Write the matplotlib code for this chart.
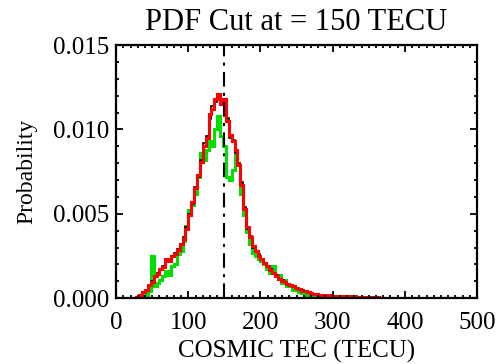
import numpy as np
import matplotlib
matplotlib.use("Agg")
import matplotlib.pyplot as plt
from matplotlib.ticker import MultipleLocator, FormatStrFormatter

plt.rcParams['font.family'] = ['Liberation Serif', 'DejaVu Serif']

# bin edges (TECU), bin width 4
bin_start = 0
bin_width = 4
n_bins = 125

# probabilities in units of 1e-3
red_vals = [
    0, 0, 0, 0, 0, 0, 0, 0.05, 0.2, 0.35,
    0.5, 0.75, 0.95, 1.3, 1.45, 1.7, 1.85, 2.3, 2.2, 2.5,
    2.6, 2.85, 3.2, 3.5, 4.1, 4.9, 5.7, 6.5, 7.3, 8.1,
    9.0, 9.5, 10.9, 11.2, 11.8, 12.1, 11.5, 11.8, 10.5, 9.7,
    9.3, 8.8, 7.9, 6.7, 5.3, 4.2, 3.6, 3.1, 2.8, 2.5,
    2.3, 2.1, 1.9, 1.65, 1.5, 1.3, 1.15, 1.0, 0.95, 0.85,
    0.8, 0.7, 0.62, 0.55, 0.45, 0.4, 0.35, 0.3, 0.27, 0.24,
    0.2, 0.18, 0.16, 0.17, 0.15, 0.14, 0.15, 0.13, 0.14, 0.12,
    0.12, 0.10, 0.11, 0.09, 0.08, 0.07, 0.06, 0.06, 0.05, 0.04,
    0.04, 0.03, 0.03, 0.02, 0.02, 0.02, 0.02, 0.01, 0.01, 0.01,
    0.01, 0, 0, 0, 0, 0, 0, 0, 0, 0,
    0, 0, 0, 0, 0, 0, 0, 0, 0, 0,
    0, 0, 0, 0, 0,
]

green_vals = [
    0, 0, 0, 0, 0, 0, 0, 0, 0, 0.05,
    0.2, 0.4, 2.5, 0.7, 0.9, 1.1, 1.3, 1.6, 1.4, 1.9,
    2.0, 2.6, 2.8, 3.4, 4.3, 5.2, 5.5, 6.2, 7.2, 8.6,
    8.2, 8.8, 9.3, 9.0, 10.0, 10.8, 9.6, 9.0, 7.2, 7.0,
    7.6, 8.6, 7.9, 6.2, 4.9, 3.9, 3.2, 2.7, 2.5, 2.3,
    2.2, 2.0, 1.7, 1.5, 1.9, 1.3, 1.4, 0.9, 1.1, 0.7,
    0.75, 0.5, 0.55, 0.35, 0.3, 0.2, 0.15, 0.1, 0.08, 0.05,
    0.03, 0.02, 0.02, 0.02, 0.01, 0, 0, 0, 0, 0,
    0, 0, 0, 0, 0, 0, 0, 0, 0, 0,
    0, 0, 0, 0, 0, 0, 0, 0, 0, 0,
    0, 0, 0, 0, 0, 0, 0, 0, 0, 0,
    0, 0, 0, 0, 0, 0, 0, 0, 0, 0,
    0, 0, 0, 0, 0,
]

black_vals = [
    0, 0, 0, 0, 0, 0, 0, 0.05, 0.2, 0.3,
    0.5, 0.7, 1.0, 1.25, 1.5, 1.65, 1.9, 2.2, 2.3, 2.45,
    2.65, 2.9, 3.15, 3.6, 4.2, 5.0, 5.6, 6.6, 7.2, 8.2,
    9.2, 9.6, 10.6, 11.4, 11.6, 11.9, 11.6, 11.6, 10.7, 9.5,
    9.4, 8.6, 8.0, 6.9, 5.4, 4.1, 3.7, 3.0, 2.8, 2.6,
    2.3, 2.0, 1.9, 1.7, 1.5, 1.35, 1.1, 1.05, 0.9, 0.85,
    0.78, 0.7, 0.6, 0.55, 0.47, 0.4, 0.34, 0.3, 0.26, 0.24,
    0.2, 0.18, 0.17, 0.16, 0.15, 0.14, 0.14, 0.13, 0.13, 0.12,
    0.11, 0.10, 0.10, 0.09, 0.08, 0.07, 0.06, 0.05, 0.05, 0.04,
    0.04, 0.03, 0.03, 0.02, 0.02, 0.02, 0.01, 0.01, 0.01, 0.01,
    0, 0, 0, 0, 0, 0, 0, 0, 0, 0,
    0, 0, 0, 0, 0, 0, 0, 0, 0, 0,
    0, 0, 0, 0, 0,
]

cut_value = 150
title = "PDF Cut at = 150 TECU"
xlabel = "COSMIC TEC (TECU)"
ylabel = "Probability"
xticks = [0, 100, 200, 300, 400, 500]
yticks = [0.000, 0.005, 0.010, 0.015]

edges = bin_start + bin_width * np.arange(n_bins + 1)
scale = 1e-3

fig = plt.figure(figsize=(4.96, 3.64), dpi=100)
ax = fig.add_axes([0.234, 0.181, 0.728, 0.695])

ax.stairs(np.array(green_vals) * scale, edges, color='#00e000', lw=2.2, baseline=None)
ax.stairs(np.array(black_vals) * scale, edges, color='black', lw=1.2, baseline=None)
ax.stairs(np.array(red_vals) * scale, edges, color='#ff0000', lw=2.2, baseline=None)

ax.axvline(cut_value, color='black', lw=1.5, linestyle=(0, (7, 3, 1.5, 3)))

ax.set_xlim(0, 500)
ax.set_ylim(0, 0.015)
ax.set_xticks(xticks)
ax.set_yticks(yticks)
ax.yaxis.set_major_formatter(FormatStrFormatter('%.3f'))
ax.xaxis.set_minor_locator(MultipleLocator(10))
ax.yaxis.set_minor_locator(MultipleLocator(0.001))
ax.tick_params(which='both', direction='in', top=True, right=True, width=1.3, labelsize=18)
ax.tick_params(which='major', length=5)
ax.tick_params(which='minor', length=2.5)
ax.tick_params(axis='x', pad=10)
ax.tick_params(axis='y', pad=5)
for s in ax.spines.values():
    s.set_linewidth(1.6)

ax.set_title(title, fontsize=22, pad=11)
ax.set_xlabel(xlabel, fontsize=18, labelpad=4)
ax.set_ylabel(ylabel, fontsize=17, labelpad=11)

fig.savefig("out.png", dpi=100)
